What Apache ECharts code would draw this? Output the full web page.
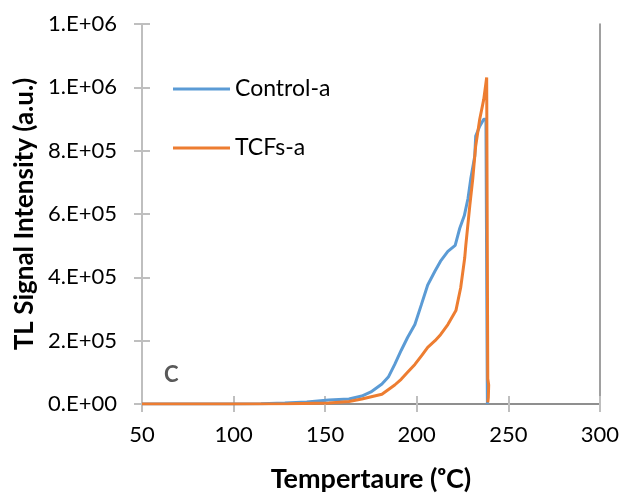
<!DOCTYPE html>
<html>
<head>
<meta charset="utf-8">
<script src="https://cdn.jsdelivr.net/npm/echarts@6/dist/echarts.min.js"></script>
<style>
html,body{margin:0;padding:0;background:#fff;}
#chart{width:622px;height:498px;}
</style>
</head>
<body>
<div id="chart"></div>
<script>
// Temperature (°C) / TL signal (a.u.) pairs
const controlTemp = [50, 100, 115, 128, 140, 152, 163, 170, 175, 181, 184.5, 188, 191.5, 195, 199, 202.5, 206, 210, 213, 217, 221, 223.5, 226, 228, 229.5, 231.7, 232.2, 234.4, 236.6, 237.8, 238.3, 238.5, 238.6];
const controlVals = [0, 0, 1000, 3000, 6000, 12500, 16000, 25000, 38000, 63000, 85000, 125000, 169000, 210000, 251000, 313000, 376000, 420000, 451000, 482000, 501000, 555000, 595000, 649000, 711000, 783000, 846000, 877000, 899000, 899000, 300000, 75000, 0];

const tcfsTemp = [50, 100, 130, 152, 163, 170, 181, 188, 191.5, 195, 199, 203, 206, 210, 213, 217, 221.4, 224, 226.2, 226.8, 229, 230.6, 232.2, 234.4, 236.6, 238.2, 238.7, 238.8, 239.3, 239.1, 238.8];
const tcfsVals = [0, 0, 500, 3000, 8000, 15700, 31000, 60000, 78000, 100000, 125000, 155000, 179000, 200000, 219000, 251000, 295000, 367000, 461000, 501000, 627000, 711000, 815000, 899000, 962000, 1031000, 1031000, 80000, 60000, 20000, 5000];

const seriesNames = ['Control-a', 'TCFs-a'];
const xTicks = [50, 100, 150, 200, 250, 300];
const yTickLabels = ['0.E+00', '2.E+05', '4.E+05', '6.E+05', '8.E+05', '1.E+06', '1.E+06'];
const yStep = 200000;
const panelLabel = 'C';

const FONT = 'Lato';
const AXIS_LIGHT = '#bfbfbf';
const BORDER_DARK = '#808080';

function pairs(xs, ys) { return xs.map((x, i) => [x, ys[i]]); }

const chart = echarts.init(document.getElementById('chart'), null, {renderer: 'canvas'});

const xBase = {type: 'value', min: xTicks[0], max: xTicks[xTicks.length - 1], interval: xTicks[1] - xTicks[0], splitLine: {show: false}};
const yBase = {type: 'value', min: 0, max: yStep * (yTickLabels.length - 1), interval: yStep, splitLine: {show: false}};

chart.setOption({
  animation: false,
  backgroundColor: '#ffffff',
  grid: {left: 142, right: 19, top: 24, bottom: 91, containLabel: false},
  legend: {
    orient: 'vertical',
    left: 173, top: 77, padding: 0,
    itemWidth: 57, itemHeight: 3, itemGap: 35,
    icon: 'rect',
    textStyle: {fontFamily: FONT, fontSize: 23, color: '#000', lineHeight: 24},
    data: seriesNames
  },
  xAxis: [
    Object.assign({}, xBase, {
      position: 'bottom',
      axisLine: {show: true, lineStyle: {color: AXIS_LIGHT, width: 2}},
      axisTick: {show: true, inside: false, length: 8, lineStyle: {color: AXIS_LIGHT, width: 2}},
      axisLabel: {show: true, margin: 20, fontFamily: FONT, fontSize: 22, color: '#000'},
      name: 'Tempertaure (ᵒC)',
      nameLocation: 'middle',
      nameGap: 62,
      nameTextStyle: {fontFamily: FONT, fontSize: 27, fontWeight: 'bold', color: '#000'}
    }),
    Object.assign({}, xBase, {
      position: 'bottom',
      axisLine: {show: false},
      axisTick: {show: true, inside: true, length: 8, lineStyle: {color: AXIS_LIGHT, width: 2}},
      axisLabel: {show: false}
    }),
    Object.assign({}, xBase, {
      position: 'top',
      axisLine: {show: true, lineStyle: {color: BORDER_DARK, width: 1.5}},
      axisTick: {show: false},
      axisLabel: {show: false}
    })
  ],
  yAxis: [
    Object.assign({}, yBase, {
      position: 'left',
      axisLine: {show: true, lineStyle: {color: AXIS_LIGHT, width: 2}},
      axisTick: {show: true, inside: false, length: 8, lineStyle: {color: AXIS_LIGHT, width: 2}},
      axisLabel: {
        show: true, margin: 25, fontFamily: FONT, fontSize: 22, color: '#000',
        formatter: v => yTickLabels[Math.round(v / yStep)]
      },
      name: 'TL Signal Intensity (a.u.)',
      nameLocation: 'middle',
      nameGap: 103,
      nameTextStyle: {fontFamily: FONT, fontSize: 26, fontWeight: 'bold', color: '#000'}
    }),
    Object.assign({}, yBase, {
      position: 'left',
      axisLine: {show: false},
      axisTick: {show: true, inside: true, length: 8, lineStyle: {color: AXIS_LIGHT, width: 2}},
      axisLabel: {show: false}
    }),
    Object.assign({}, yBase, {
      position: 'right',
      axisLine: {show: true, lineStyle: {color: BORDER_DARK, width: 1.5}},
      axisTick: {show: false},
      axisLabel: {show: false}
    })
  ],
  series: [
    {
      name: seriesNames[0], type: 'line', xAxisIndex: 0, yAxisIndex: 0,
      data: pairs(controlTemp, controlVals),
      showSymbol: false, symbol: 'none',
      lineStyle: {color: '#5B9BD5', width: 3},
      itemStyle: {color: '#5B9BD5'}
    },
    {
      name: seriesNames[1], type: 'line', xAxisIndex: 0, yAxisIndex: 0,
      data: pairs(tcfsTemp, tcfsVals),
      showSymbol: false, symbol: 'none',
      lineStyle: {color: '#ED7D31', width: 3},
      itemStyle: {color: '#ED7D31'}
    }
  ],
  graphic: [
    {
      type: 'text', left: 164, top: 364, z: 10,
      style: {text: panelLabel, fontFamily: FONT, fontSize: 22, fontWeight: 'bold', fill: '#595959'}
    }
  ]
});
</script>
</body>
</html>
